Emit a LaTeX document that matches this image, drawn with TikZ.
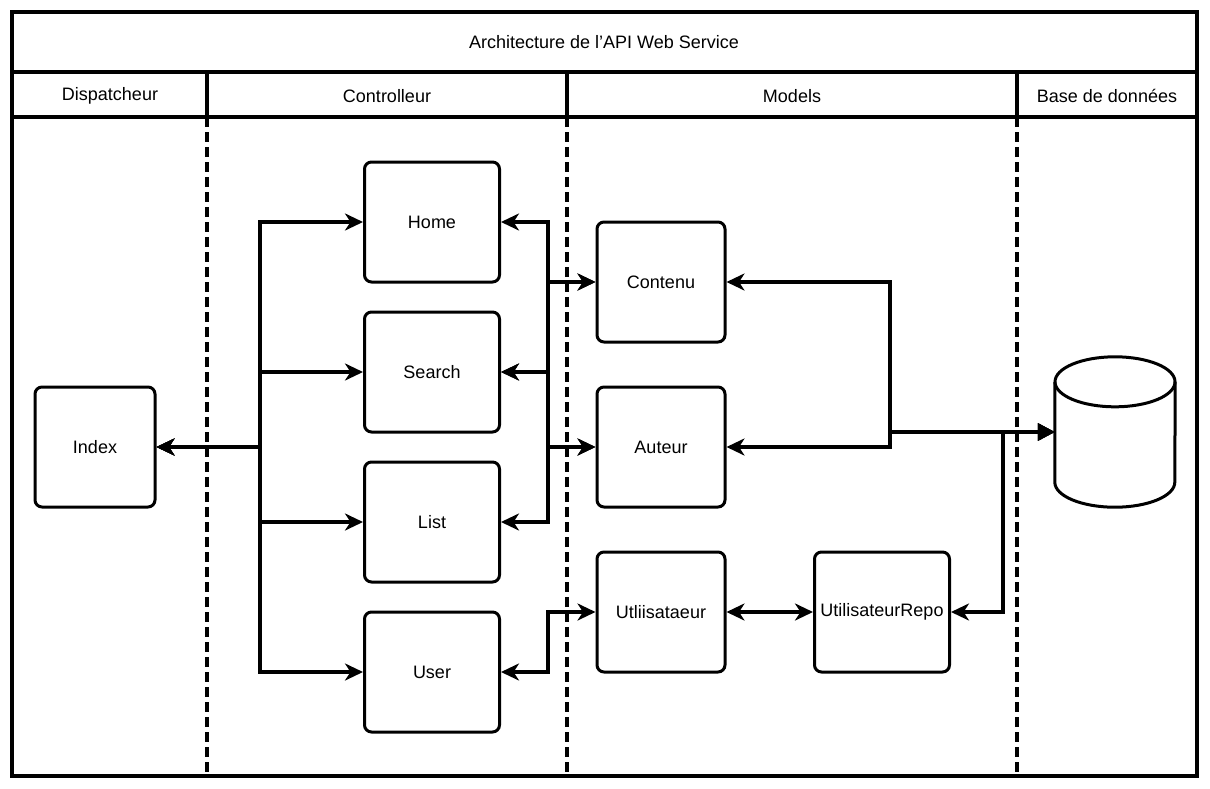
\documentclass[tikz,border=0pt]{standalone}
\usepackage{fontspec}
\setmainfont{Liberation Sans}
\usetikzlibrary{arrows.meta}

\tikzset{
  lane/.style={line width=3.2pt},
  lanesep/.style={line width=3.2pt, dash pattern=on 10pt off 5pt},
  box/.style={draw, line width=3pt, rounded corners=7pt, minimum width=135pt, minimum height=120pt, inner sep=0pt},
  lanetitle/.style={inner sep=0pt},
  link/.style={line width=3.2pt, arrows={Stealth[length=18pt,width=17pt,inset=5.5pt]-Stealth[length=18pt,width=17pt,inset=5.5pt]}},
  dblink/.style={line width=3.2pt, arrows={Stealth[length=18pt,width=17pt,inset=5.5pt]-Triangle[length=17pt,width=17pt]}}
}

\begin{document}
\begin{tikzpicture}[x=1pt,y=-1pt,font=\fontsize{18}{21}\selectfont]
\useasboundingbox (0,0) rectangle (1210,788);
% pool and lanes
\draw[lane] (12,12) rectangle (1197,776);
\draw[lane] (12,72) -- (1197,72);
\draw[lane] (12,117) -- (1197,117);
\foreach \x in {207,567,1017} {
  \draw[lane] (\x,72) -- (\x,117);
  \draw[lanesep] (\x,117) -- (\x,776);
}
\node[lanetitle] (title) at (604,42) {Architecture de l'API Web Service};
\node[lanetitle] (hdisp) at (110,96) {Dispatcheur};
\node[lanetitle] (hctrl) at (387,96) {Controlleur};
\node[lanetitle] (hmod) at (792,96) {Models};
\node[lanetitle] (hbase) at (1107,96) {Base de données};

% boxes
\node[box, minimum width=120pt] (index) at (95,447) {Index};
\foreach \name/\txt/\y in {home/Home/222, search/Search/372, list/List/522, user/User/672}
  \node[box] (\name) at (432,\y) {\txt};
\node[box, minimum width=128pt] (contenu) at (661,282) {Contenu};
\node[box, minimum width=128pt] (auteur) at (661,447) {Auteur};
\node[box, minimum width=128pt] (utli) at (661,612) {Utliisataeur};
\node[box] (repo) at (882,612) {UtilisateurRepo};

% database
\node[minimum width=120pt, minimum height=150pt, inner sep=0pt] (db) at (1115,432) {};
\draw[line width=3pt] ([yshift=-25pt]db.north) ellipse [x radius=60pt, y radius=25pt];
\draw[line width=3pt] ([yshift=-25pt]db.north west) -- ([yshift=25pt]db.south west)
  arc [start angle=180, end angle=360, x radius=60pt, y radius=25pt] -- ([yshift=-25pt]db.north east);

% connectors
\coordinate (dbus) at (260,0);
\coordinate (cbus) at (548,0);
\coordinate (mbus) at (890,0);
\coordinate (rbus) at (1003,0);
\foreach \name in {home,search,list,user}
  \draw[link] (index.east) -- (index.east -| dbus) |- (\name.west);
\draw[link] (home.east) -- (home.east -| cbus) |- (contenu.west);
\draw[link] (search.east) -- (search.east -| cbus) |- (contenu.west);
\draw[link] (search.east) -- (search.east -| cbus) |- (auteur.west);
\draw[link] (list.east) -- (list.east -| cbus) |- (auteur.west);
\draw[link] (user.east) -- (user.east -| cbus) |- (utli.west);
\draw[link] (utli) -- (repo);
\draw[dblink] (contenu.east) -- (contenu.east -| mbus) |- (db.west);
\draw[dblink] (auteur.east) -- (auteur.east -| mbus) |- (db.west);
\draw[dblink] (repo.east) -- (repo.east -| rbus) |- (db.west);
\end{tikzpicture}
\end{document}
